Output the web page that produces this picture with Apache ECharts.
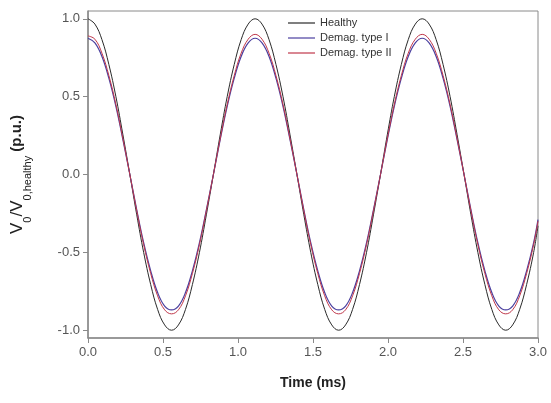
<!DOCTYPE html>
<html>
<head>
<meta charset="utf-8">
<script src="https://cdn.jsdelivr.net/npm/echarts@6/dist/echarts.min.js"></script>
<style>html,body{margin:0;padding:0;background:#fff;}#c{width:551px;height:403px;}</style>
</head>
<body>
<div id="c"></div>
<script>
// Time (ms)
var timeMs = [0, 0.046, 0.093, 0.139, 0.186, 0.232, 0.279, 0.325, 0.371, 0.418, 0.464, 0.511, 0.557,
  0.603, 0.650, 0.696, 0.743, 0.789, 0.836, 0.882, 0.928, 0.975, 1.021, 1.068, 1.114,
  1.160, 1.207, 1.253, 1.300, 1.346, 1.393, 1.439, 1.485, 1.532, 1.578, 1.625, 1.671,
  1.717, 1.764, 1.810, 1.857, 1.903, 1.950, 1.996, 2.042, 2.089, 2.135, 2.182, 2.228,
  2.274, 2.321, 2.367, 2.414, 2.460, 2.507, 2.553, 2.599, 2.646, 2.692, 2.739, 2.785,
  2.831, 2.878, 2.924, 2.971, 3.0];
var healthy = [1.0, 0.966, 0.866, 0.707, 0.5, 0.259, 0, -0.259, -0.5, -0.707, -0.866, -0.966, -1.0,
  -0.966, -0.866, -0.707, -0.5, -0.259, 0, 0.259, 0.5, 0.707, 0.866, 0.966, 1.0,
  0.966, 0.866, 0.707, 0.5, 0.259, 0, -0.259, -0.5, -0.707, -0.866, -0.966, -1.0,
  -0.966, -0.866, -0.707, -0.5, -0.259, 0, 0.259, 0.5, 0.707, 0.866, 0.966, 1.0,
  0.966, 0.866, 0.707, 0.5, 0.259, 0, -0.259, -0.5, -0.707, -0.866, -0.966, -1.0,
  -0.966, -0.866, -0.707, -0.5, -0.33];
var demagTypeI = [0.875, 0.845, 0.758, 0.619, 0.438, 0.227, 0, -0.227, -0.438, -0.619, -0.758, -0.845, -0.87,
  -0.845, -0.758, -0.619, -0.438, -0.227, 0, 0.227, 0.438, 0.619, 0.758, 0.845, 0.875,
  0.845, 0.758, 0.619, 0.438, 0.227, 0, -0.227, -0.438, -0.619, -0.758, -0.845, -0.87,
  -0.845, -0.758, -0.619, -0.438, -0.227, 0, 0.227, 0.438, 0.619, 0.758, 0.845, 0.875,
  0.845, 0.758, 0.619, 0.438, 0.227, 0, -0.227, -0.438, -0.619, -0.758, -0.845, -0.87,
  -0.845, -0.758, -0.619, -0.438, -0.29];
var demagTypeII = [0.89, 0.869, 0.779, 0.636, 0.45, 0.233, 0, -0.233, -0.45, -0.636, -0.779, -0.869, -0.895,
  -0.869, -0.779, -0.636, -0.45, -0.233, 0, 0.233, 0.45, 0.636, 0.779, 0.869, 0.90,
  0.869, 0.779, 0.636, 0.45, 0.233, 0, -0.233, -0.45, -0.636, -0.779, -0.869, -0.895,
  -0.869, -0.779, -0.636, -0.45, -0.233, 0, 0.233, 0.45, 0.636, 0.779, 0.869, 0.90,
  0.869, 0.779, 0.636, 0.45, 0.233, 0, -0.233, -0.45, -0.636, -0.779, -0.869, -0.895,
  -0.869, -0.779, -0.636, -0.45, -0.30];
var yTicks = [-1.0, -0.5, 0.0, 0.5, 1.0];
var seriesNames = ['Healthy', 'Demag. type I', 'Demag. type II'];

function pairs(xs, ys) { return xs.map(function (x, i) { return [x, ys[i]]; }); }

var chart = echarts.init(document.getElementById('c'), null, { renderer: 'canvas' });
var axisGray = '#8a8a8a';
var labelGray = '#555';
chart.setOption({
  backgroundColor: '#fff',
  animation: false,
  grid: { left: 88, right: 13, top: 11, bottom: 65, show: true, borderColor: axisGray, borderWidth: 1 },
  legend: {
    left: 283, top: 12, orient: 'vertical',
    icon: 'rect', itemWidth: 27, itemHeight: 1.2, itemGap: 3,
    textStyle: { fontFamily: 'Liberation Sans, Arial, sans-serif', fontSize: 11, color: '#333', lineHeight: 12 },
    data: seriesNames
  },
  xAxis: {
    type: 'value', min: 0, max: 3, interval: 0.5,
    name: 'Time (ms)', nameLocation: 'middle', nameGap: 38,
    nameTextStyle: { fontFamily: 'Liberation Sans, Arial, sans-serif', fontSize: 14, fontWeight: 'bold', color: '#222' },
    axisLine: { onZero: false, lineStyle: { color: axisGray, width: 1.5 } },
    axisTick: { show: true, inside: false, length: 5, lineStyle: { color: axisGray } },
    axisLabel: { color: labelGray, fontSize: 13, fontFamily: 'Liberation Sans, Arial, sans-serif', margin: 8,
      formatter: function (v) { return v.toFixed(1); } },
    splitLine: { show: false }
  },
  yAxis: {
    type: 'value', min: -1.05, max: 1.05,
    name: '{v|V}{s|0}{v|/V}{s|0,healthy}{b| (p.u.)}',
    nameLocation: 'middle', nameRotate: 90, nameGap: 55,
    nameTextStyle: {
      fontFamily: 'Liberation Sans, Arial, sans-serif', color: '#222',
      rich: {
        v: { fontSize: 17, color: '#222', fontFamily: 'Liberation Sans, Arial, sans-serif', lineHeight: 24, verticalAlign: 'top' },
        s: { fontSize: 11, color: '#222', fontFamily: 'Liberation Sans, Arial, sans-serif', lineHeight: 24, verticalAlign: 'bottom' },
        b: { fontSize: 15, fontWeight: 'bold', color: '#222', fontFamily: 'Liberation Sans, Arial, sans-serif', lineHeight: 24, verticalAlign: 'top' }
      }
    },
    axisLine: { show: true, onZero: false, lineStyle: { color: axisGray, width: 1.5 } },
    axisTick: { show: true, inside: false, length: 5, customValues: yTicks, lineStyle: { color: axisGray } },
    axisLabel: { color: labelGray, fontSize: 13, fontFamily: 'Liberation Sans, Arial, sans-serif', margin: 8,
      customValues: yTicks, formatter: function (v) { return v.toFixed(1); } },
    splitLine: { show: false }
  },
  series: [
    { name: seriesNames[0], type: 'line', data: pairs(timeMs, healthy), symbol: 'none', smooth: 0.4,
      lineStyle: { color: '#2a2a2a', width: 1 }, itemStyle: { color: '#2a2a2a' }, z: 3 },
    { name: seriesNames[1], type: 'line', data: pairs(timeMs, demagTypeI), symbol: 'none', smooth: 0.4,
      lineStyle: { color: '#4a3f9f', width: 1.2 }, itemStyle: { color: '#4a3f9f' }, z: 4 },
    { name: seriesNames[2], type: 'line', data: pairs(timeMs, demagTypeII), symbol: 'none', smooth: 0.4,
      lineStyle: { color: '#c0374a', width: 1 }, itemStyle: { color: '#c0374a' }, z: 5 }
  ]
});
</script>
</body>
</html>
